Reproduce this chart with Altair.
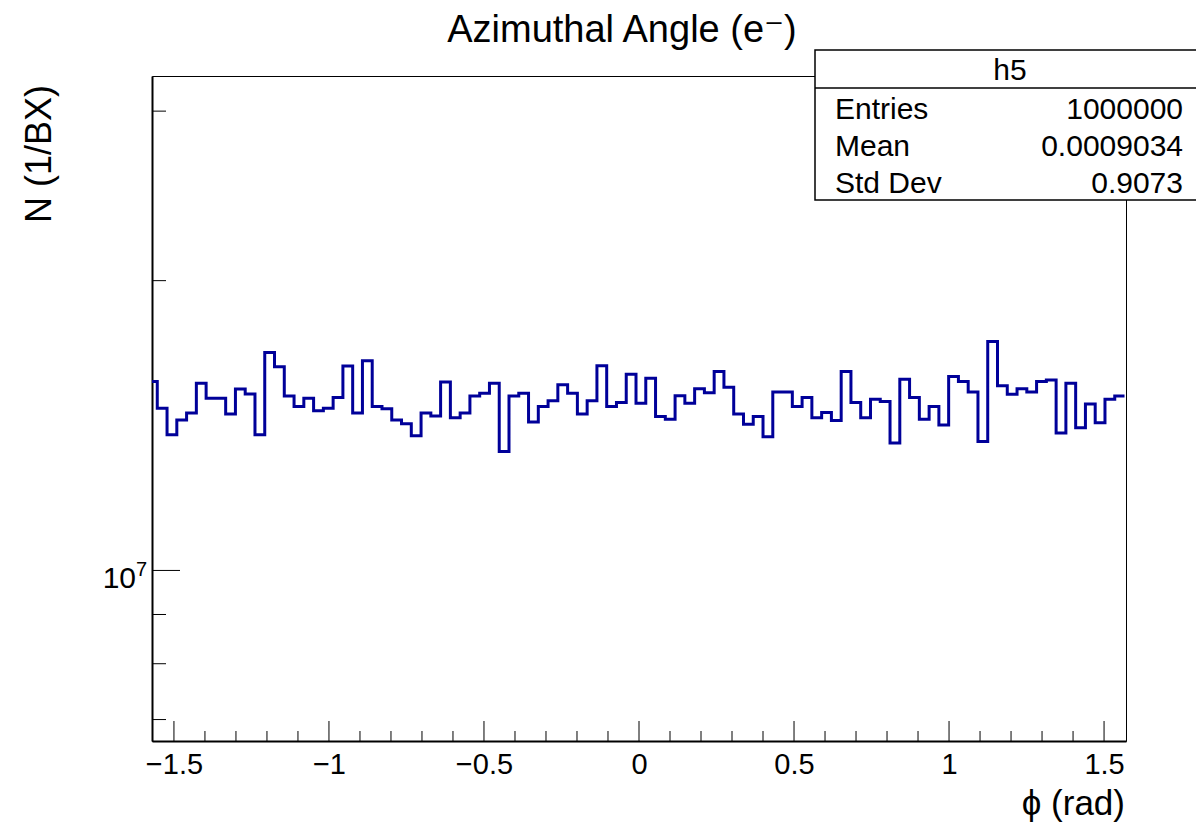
import math
import altair as alt
import pandas as pd

# ---- data ----
counts = [
    1.571e7, 1.474e7, 1.383e7, 1.433e7, 1.457e7, 1.565e7, 1.510e7, 1.510e7, 1.454e7, 1.543e7,
    1.525e7, 1.383e7, 1.684e7, 1.628e7, 1.518e7, 1.480e7, 1.510e7, 1.465e7, 1.474e7, 1.512e7,
    1.631e7, 1.457e7, 1.651e7, 1.480e7, 1.472e7, 1.433e7, 1.420e7, 1.380e7, 1.457e7, 1.447e7,
    1.569e7, 1.441e7, 1.457e7, 1.518e7, 1.528e7, 1.565e7, 1.329e7, 1.518e7, 1.528e7, 1.426e7,
    1.480e7, 1.501e7, 1.559e7, 1.528e7, 1.454e7, 1.501e7, 1.632e7, 1.480e7, 1.494e7, 1.599e7,
    1.492e7, 1.584e7, 1.445e7, 1.436e7, 1.519e7, 1.492e7, 1.544e7, 1.530e7, 1.609e7, 1.550e7,
    1.454e7, 1.419e7, 1.445e7, 1.377e7, 1.532e7, 1.532e7, 1.480e7, 1.512e7, 1.441e7, 1.459e7,
    1.431e7, 1.609e7, 1.494e7, 1.441e7, 1.506e7, 1.498e7, 1.356e7, 1.580e7, 1.512e7, 1.436e7,
    1.480e7, 1.416e7, 1.590e7, 1.571e7, 1.532e7, 1.361e7, 1.729e7, 1.555e7, 1.524e7, 1.544e7,
    1.532e7, 1.571e7, 1.577e7, 1.389e7, 1.565e7, 1.407e7, 1.489e7, 1.424e7, 1.506e7, 1.518e7,
]
X_START = -1.5853      # low edge of first bin (rad)
BIN_W = 0.031513       # bin width (rad)

x_major = [-1.5, -1.0, -0.5, 0.0, 0.5, 1.0, 1.5]
x_minor = [-1.4, -1.3, -1.2, -1.1, -0.9, -0.8, -0.7, -0.6, -0.4, -0.3, -0.2, -0.1,
           0.1, 0.2, 0.3, 0.4, 0.6, 0.7, 0.8, 0.9, 1.1, 1.2, 1.3, 1.4]
y_major = [1e7]
y_major_base = ["10"]
y_major_exp = ["7"]
y_minor = [7e6, 8e6, 9e6, 2e7, 3e7]

stat_names = ["Entries", "Mean", "Std Dev"]
stat_values = ["1000000", "0.0009034", "0.9073"]
hist_name = "h5"
title_text = "Azimuthal Angle (e\u207b)"
ytitle_text = "N (1/BX)"
xtitle_text = "\u03d5 (rad)"

# ---- layout ----
W, H = 974, 665
FONT = "Liberation Sans, Arial, DejaVu Sans"
XDOM = [-math.pi / 2, math.pi / 2]
YDOM = [6.65e6, 3.263e7]
LINE_COLOR = "#000099"

rows = []
for i, c in enumerate(counts):
    lo = X_START + i * BIN_W
    rows.append({"x": lo, "y": c, "o": 2 * i})
    rows.append({"x": lo + BIN_W, "y": c, "o": 2 * i + 1})
df = pd.DataFrame(rows)

xs = alt.Scale(domain=XDOM, nice=False, zero=False)
ys = alt.Scale(type="log", domain=YDOM, nice=False)

x_axis = alt.Axis(
    values=x_major, format="~g", ticks=False, tickSize=0, grid=False,
    labelFontSize=29, labelPadding=9, labelColor="black", labelFlush=False,
    labelFont=FONT, domainColor="black", domainWidth=2, title=None)
y_axis = alt.Axis(
    values=y_major, labels=False, ticks=False, tickSize=0, grid=False,
    domainColor="black", domainWidth=2, title=None)

hist = alt.Chart(df).mark_line(
    color=LINE_COLOR, strokeWidth=3, clip=True, strokeJoin="miter"
).encode(
    x=alt.X("x:Q", scale=xs, axis=x_axis, title=None),
    y=alt.Y("y:Q", scale=ys, axis=y_axis, title=None),
    order="o:Q",
)

def xticks(vals, length):
    return alt.Chart(pd.DataFrame({"t": vals})).mark_rule(color="black", strokeWidth=1).encode(
        x=alt.X("t:Q", scale=xs, axis=x_axis, title=None), y=alt.value(H), y2=alt.value(H - length))

def yticks(vals, length):
    return alt.Chart(pd.DataFrame({"t": vals})).mark_rule(color="black", strokeWidth=1).encode(
        y=alt.Y("t:Q", scale=ys, axis=y_axis, title=None), x=alt.value(0), x2=alt.value(length))

ylab_df = pd.DataFrame({"t": y_major, "b": y_major_base, "e": y_major_exp})
ylab_base = alt.Chart(ylab_df).mark_text(
    align="right", baseline="alphabetic", fontSize=30, dy=18, color="black", font=FONT
).encode(y=alt.Y("t:Q", scale=ys, axis=y_axis, title=None), x=alt.value(-16), text="b:N")
ylab_exp = alt.Chart(ylab_df).mark_text(
    align="left", baseline="alphabetic", fontSize=20, dy=6, color="black", font=FONT
).encode(y=alt.Y("t:Q", scale=ys, axis=y_axis, title=None), x=alt.value(-16), text="e:N")

def txt(s, x, y, size, align="left", angle=0):
    return alt.Chart(pd.DataFrame({"s": [s]})).mark_text(
        align=align, baseline="alphabetic", fontSize=size, angle=angle,
        color="black", font=FONT).encode(x=alt.value(x), y=alt.value(y), text="s:N")

box = alt.Chart(pd.DataFrame({"a": [0]})).mark_rect(
    fill="white", stroke="black", strokeWidth=1.5).encode(
    x=alt.value(663), x2=alt.value(1060), y=alt.value(-26), y2=alt.value(124))
divider = alt.Chart(pd.DataFrame({"a": [0]})).mark_rule(color="black", strokeWidth=1.5).encode(
    x=alt.value(663), x2=alt.value(1060), y=alt.value(12))

layers = [hist, xticks(x_major, 20), xticks(x_minor, 10), yticks(y_major, 28), yticks(y_minor, 14),
          ylab_base, ylab_exp, box, divider,
          txt(title_text, 470, -34, 38, align="center"),
          txt(ytitle_text, -101, 9, 36, align="right", angle=270),
          txt(xtitle_text, 973, 739, 35, align="right"),
          txt(hist_name, 858, 4, 30, align="center")]
row_y = [43, 80, 117]
for name, val, yy in zip(stat_names, stat_values, row_y):
    layers.append(txt(name, 683, yy, 30))
    layers.append(txt(val, 1031, yy, 30, align="right"))

chart = alt.layer(*layers).properties(
    width=W, height=H,
    padding={"left": 144, "top": 68, "right": 70, "bottom": 81},
    autosize=alt.AutoSizeParams(type="none"),
).configure(font="Liberation Sans").configure_view(stroke="black", strokeWidth=1)

chart.save("out.html", embed_options={"renderer": "svg", "actions": False})
